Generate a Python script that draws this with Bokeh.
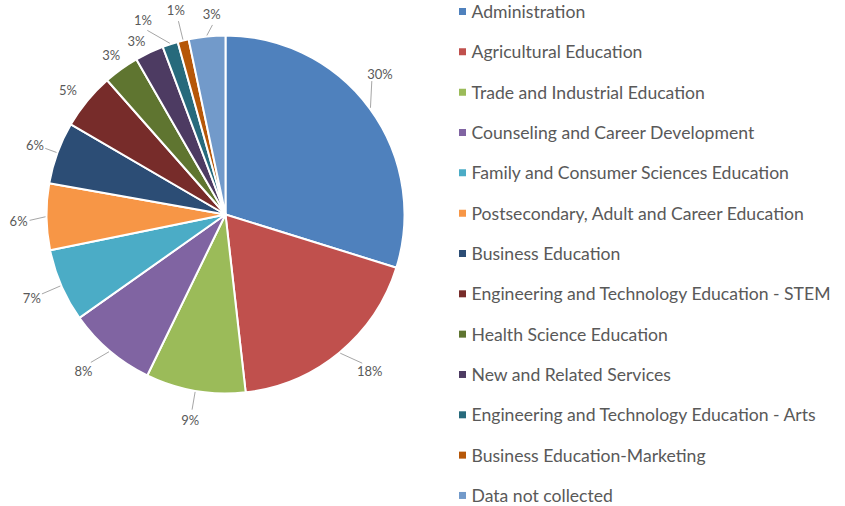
import numpy as np
from bokeh.plotting import figure
from bokeh.models import ColumnDataSource, Range1d
from bokeh.embed import file_html
from bokeh.resources import INLINE
from bokeh.core.properties import value

# ---- data ----
categories = [
    "Administration",
    "Agricultural Education",
    "Trade and Industrial Education",
    "Counseling and Career Development",
    "Family and Consumer Sciences Education",
    "Postsecondary, Adult and Career Education",
    "Business Education",
    "Engineering and Technology Education - STEM",
    "Health Science Education",
    "New and Related Services",
    "Engineering and Technology Education - Arts",
    "Business Education-Marketing",
    "Data not collected",
]
shares = [29.8, 18.4, 9.0, 8.0, 6.6, 6.0, 5.6, 5.1, 3.2, 2.6, 1.4, 1.0, 3.3]
colors = ["#4F81BD", "#C0504D", "#9BBB59", "#8064A2", "#4BACC6", "#F79646",
          "#2C4D75", "#772C2A", "#5F7530", "#4D3B62", "#276A7C", "#B65708",
          "#729ACA"]

# ---- style / layout ----
label_nudge_deg = [6, 3, 0, -2, 0, 1, 0, 1, 0, 2, 5, 0, -2]
label_dist_extra = [30, 34, 30, 32, 32, 28, 24, 22, 17, 16, 32, 31, 22]
show_leader = [True, True, True, True, True, True, True, False, False, False, True, True, True]

W, H = 845, 506
TEXT = "#595959"
FONT = "Lato"

p = figure(width=W, height=H, x_range=Range1d(0, W), y_range=Range1d(-H, 0),
           output_backend="svg", toolbar_location=None, min_border=0)
p.axis.visible = False
p.grid.visible = False
p.outline_line_color = None

cx, cy, R = 225.0, -214.0, 179.0

vals = np.array(shares, dtype=float)
frac = vals / vals.sum()
cum = np.concatenate([[0.0], np.cumsum(frac)])
start = np.pi / 2 - 2 * np.pi * cum[:-1]
end = np.pi / 2 - 2 * np.pi * cum[1:]
mid = (start + end) / 2

src = ColumnDataSource(dict(start=start, end=end, color=colors, cat=categories))
p.wedge(x=cx, y=cy, radius=R, start_angle="start", end_angle="end",
        direction="clock", fill_color="color", line_color="white",
        line_width=2, source=src)

# data labels
lab_ang = mid + np.radians(label_nudge_deg)
dist = R + np.array(label_dist_extra, dtype=float)
lx = cx + dist * np.cos(lab_ang)
ly = cy + dist * np.sin(lab_ang)
labels = [f"{round(v / vals.sum() * 100):.0f}%" for v in vals]
p.text(x=lx, y=ly, text=labels, text_align="center", text_baseline="middle",
       text_color=TEXT, text_font=value(FONT), text_font_size="13px")

# leader lines
xs, ys = [], []
for i in range(len(vals)):
    if not show_leader[i]:
        continue
    x0 = cx + (R + 1) * np.cos(mid[i])
    y0 = cy + (R + 1) * np.sin(mid[i])
    d1 = dist[i] - 11
    x1 = cx + d1 * np.cos(lab_ang[i])
    y1 = cy + d1 * np.sin(lab_ang[i])
    xs.append([x0, x1])
    ys.append([y0, y1])
p.multi_line(xs=xs, ys=ys, line_color="#A6A6A6", line_width=1)

# legend (manual)
n = len(categories)
leg_x = 462.0
leg_y0 = -11.0
pitch = 40.33
leg_y = [leg_y0 - i * pitch for i in range(n)]
p.scatter(x=[leg_x] * n, y=leg_y, marker="square", size=7, fill_color=colors,
          line_color=None)
p.text(x=[leg_x + 9] * n, y=leg_y, text=categories, text_align="left",
       text_baseline="middle", text_color=TEXT, text_font=value(FONT),
       text_font_size="17.6px")

open("out.html", "w").write(file_html(p, INLINE))
